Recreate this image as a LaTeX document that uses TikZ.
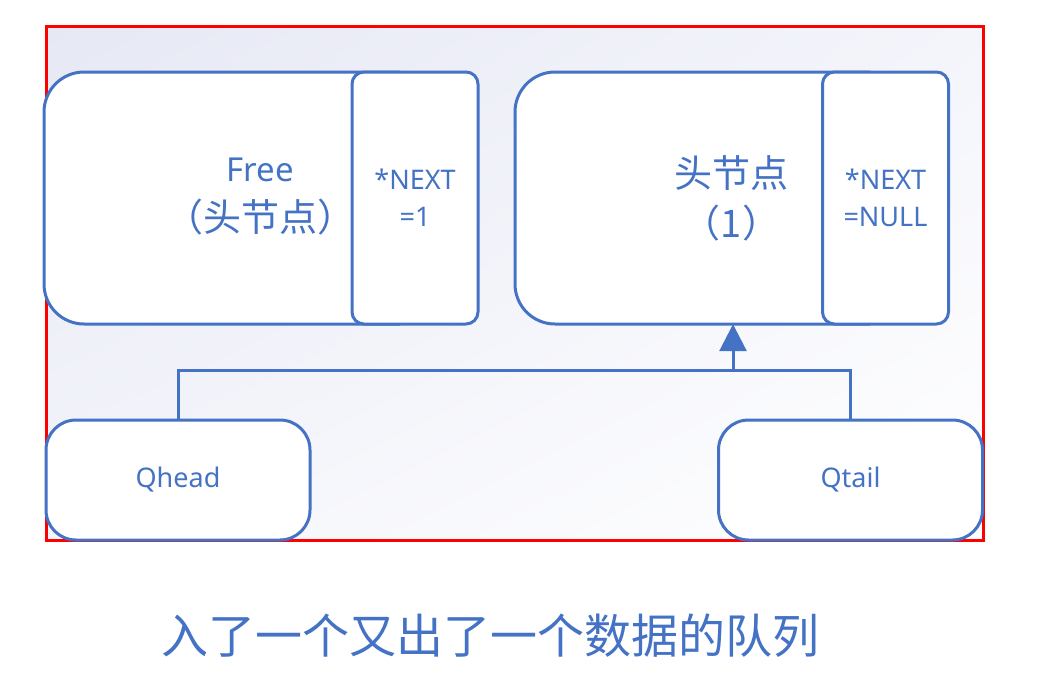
\documentclass[tikz,border=0pt]{standalone}
\usepackage{fontspec}
\setmainfont{Noto Sans}
\newfontfamily\cjk{Noto Sans CJK SC}
\usetikzlibrary{arrows.meta,shadings}
\definecolor{qblue}{RGB}{68,114,196}
\definecolor{bgA}{RGB}{230,232,244}
\definecolor{bgB}{RGB}{244,245,251}
\begin{document}
\begin{tikzpicture}[x=1pt,y=-1pt,
  line/.style={draw=qblue,line width=3pt},
  ptrbox/.style={draw=qblue,line width=3pt,fill=white,rounded corners=12pt,
    minimum width=126pt,minimum height=252pt,inner sep=0pt,text=qblue,
    align=center,font=\fontsize{27}{37}\selectfont},
  qbox/.style={draw=qblue,line width=3pt,fill=white,rounded corners=30pt,
    minimum width=264pt,minimum height=120pt,inner sep=0pt,text=qblue,
    font=\fontsize{27}{30}\selectfont},
  titletext/.style={text=qblue,align=center,inner sep=0pt,
    font=\fontsize{33}{50}\selectfont},
  bigshape/.style={draw=qblue,line width=3pt,fill=white,rounded corners=40pt}
]
\useasboundingbox (0,0) rectangle (1048,673);
% background gradient and red frame
\shade[upper left=bgA, upper right=bgB, lower left=bgB, lower right=white]
  (46,26) rectangle (983,540);
\draw[red, line width=3pt] (46,26) rectangle (983,540);
% left big node
\draw[bigshape] (400,72) -- (44,72) -- (44,324) -- (400,324);
\node[titletext] (free) at (260,197)
  {Free\\{\cjk\fontsize{38}{50}\selectfont （头节点）}};
\node[ptrbox] (n1) at (415,198) {*NEXT\\=1};
% right big node
\draw[bigshape] (870,72) -- (515,72) -- (515,324) -- (870,324);
\node[titletext,minimum width=433pt,minimum height=252pt] (hd) at (731.5,198)
  {{\cjk\fontsize{38}{50}\selectfont 头节点}\\{\cjk\fontsize{38}{50}\selectfont （1）}};
\node[ptrbox] (n2) at (885.5,198) {*NEXT\\=NULL};
% queue pointers
\node[qbox] (qh) at (178,480) {Qhead};
\node[qbox] (qt) at (850.5,480) {Qtail};
\coordinate (j) at (733,370);
\draw[line] (qh.north) |- (j) -| (qt.north);
\draw[line,-{Triangle[length=27pt,width=27pt]}] (j) -- (j |- hd.south);
% caption
\node[text=qblue,font=\cjk\fontsize{47}{52}\selectfont] (cap) at (490,636)
  {入了一个又出了一个数据的队列};
\end{tikzpicture}
\end{document}
